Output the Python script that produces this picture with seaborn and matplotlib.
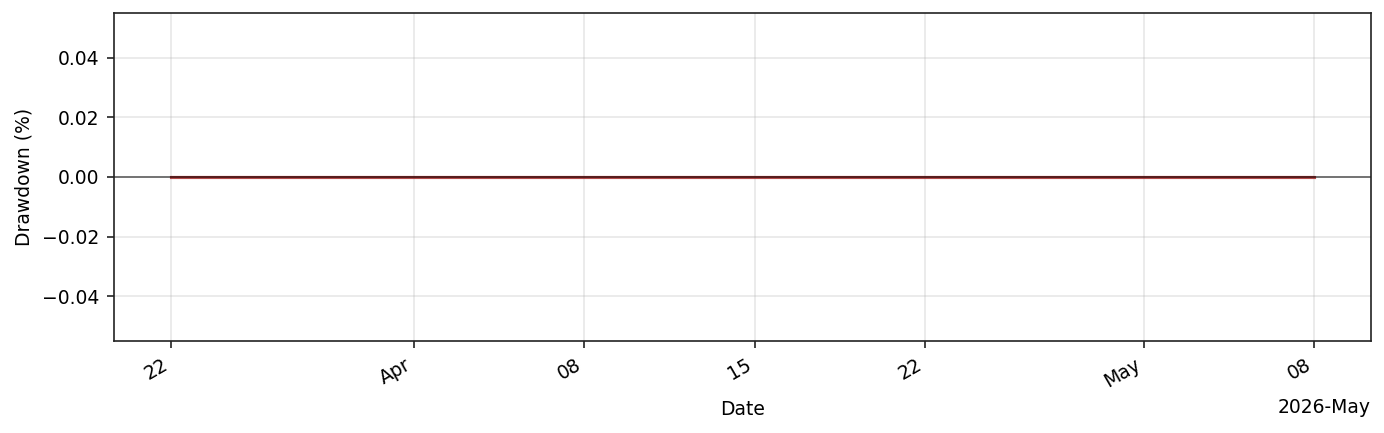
import matplotlib
matplotlib.use("Agg")
import matplotlib.pyplot as plt
import matplotlib.dates as mdates
import seaborn as sns
import pandas as pd

start_date = "2026-03-22"
end_date = "2026-05-08"
dates = pd.date_range(start_date, end_date, freq="D")
drawdown_pct = [0.0] * len(dates)

df = pd.DataFrame({"Date": dates, "Drawdown (%)": drawdown_pct})

plt.rcParams["font.family"] = ["DejaVu Sans"]

fig, ax = plt.subplots(figsize=(1385 / 150, 433 / 150), dpi=150)
fig.subplots_adjust(left=114 / 1385, right=1371 / 1385, top=1 - 13 / 433, bottom=1 - 341 / 433)

ax.fill_between(df["Date"], df["Drawdown (%)"], 0, color="red", alpha=0.3)
sns.lineplot(data=df, x="Date", y="Drawdown (%)", ax=ax, color="#a02020", linewidth=1.5, alpha=0.8)
ax.axhline(0, color="black", linewidth=0.8, alpha=0.6)

locator = mdates.AutoDateLocator()
ax.xaxis.set_major_locator(locator)
ax.xaxis.set_major_formatter(mdates.ConciseDateFormatter(locator))
ax.set_ylim(-0.055, 0.055)
ax.set_yticks([-0.04, -0.02, 0.0, 0.02, 0.04])
ax.grid(True, alpha=0.3, color="#b0b0b0")
for s in ax.spines.values():
    s.set_color("#222222")
ax.tick_params(axis="both", labelsize=9, colors="black")
ax.tick_params(axis="both", color="#222222")
for lbl in ax.get_xticklabels():
    lbl.set_rotation(30)
    lbl.set_ha("right")
ax.xaxis.get_offset_text().set_fontsize(9)
ax.set_xlabel("Date", fontsize=9, color="black")
ax.set_ylabel("Drawdown (%)", fontsize=9, color="black")

fig.savefig("out.png", dpi=150)
